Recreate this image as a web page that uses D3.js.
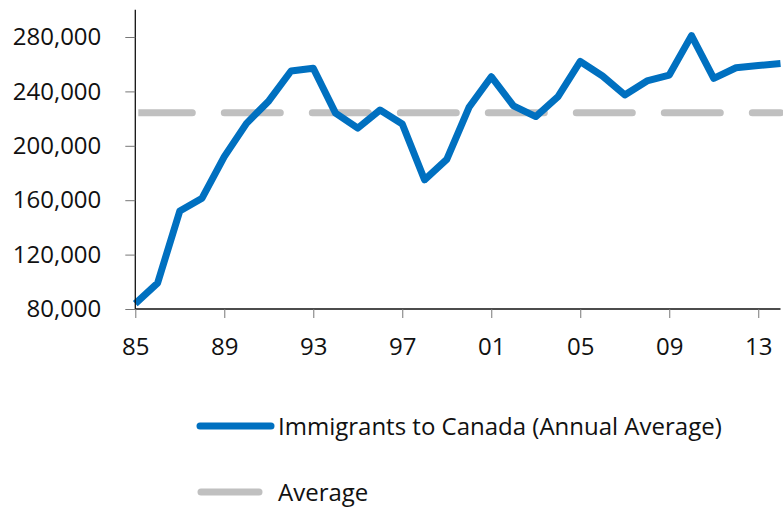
<!DOCTYPE html>
<html lang="en">
  <head>
    <meta charset="UTF-8" />
    <title>Immigrants to Canada</title>
    <style>
      body {
        margin: 0;
        background: #fff;
      }
      svg text {
        font-family: "Open Sans", sans-serif;
        fill: #111;
      }
    </style>
  </head>
  <body>
    <script src="https://cdn.jsdelivr.net/npm/d3@7"></script>
    <script>

// values
var years = [1985, 1986, 1987, 1988, 1989, 1990, 1991, 1992, 1993, 1994,
             1995, 1996, 1997, 1998, 1999, 2000, 2001, 2002, 2003, 2004,
             2005, 2006, 2007, 2008, 2009, 2010, 2011, 2012, 2013, 2014];
var immigrants = [84000, 99000, 152000, 161500, 192000, 216500, 233000, 255000, 257000, 224000,
                  213000, 226300, 216000, 175000, 190000, 228300, 250800, 229300, 221500, 236100,
                  262000, 251300, 237400, 247700, 252000, 281000, 249600, 257400, 259000, 260500];
var avgValue = 224300;
var yTicks = [80000, 120000, 160000, 200000, 240000, 280000];
var xTicks = [1985, 1989, 1993, 1997, 2001, 2005, 2009, 2013];
var legendLabels = ["Immigrants to Canada (Annual Average)", "Average"];

var width = 783, height = 507;
var blue = "#0070c0", grey = "#c0c0c0";

var svg = d3.select("body").append("svg")
    .attr("width", width)
    .attr("height", height);

var x = d3.scaleLinear().domain([1985, 2014]).range([135.3, 780.5]);
var y = d3.scaleLinear().domain([80000, 300000]).range([309, 9.8]);

// keep the first dash off the axis line
svg.append("clipPath").attr("id", "avgclip")
  .append("rect")
    .attr("x", x(1985) + 3).attr("y", 0)
    .attr("width", width).attr("height", height);

// average line (dashed)
svg.append("line")
    .attr("clip-path", "url(#avgclip)")
    .attr("x1", x(years[0]))
    .attr("x2", x(years[years.length - 1]))
    .attr("y1", y(avgValue))
    .attr("y2", y(avgValue))
    .attr("stroke", grey)
    .attr("stroke-width", 7)
    .attr("stroke-linecap", "round")
    .attr("stroke-dasharray", "56 32")
    .attr("stroke-dashoffset", -1);

// main series
var line = d3.line()
    .x(function(d, i) { return x(years[i]); })
    .y(function(d) { return y(d); });

svg.append("path")
    .datum(immigrants)
    .attr("d", line)
    .attr("fill", "none")
    .attr("stroke", blue)
    .attr("stroke-width", 7)
    .attr("stroke-linejoin", "round");

// axes
var fmt = d3.format(",");
var yAxis = svg.append("g")
    .attr("transform", "translate(" + x(1985) + ",0)")
    .call(d3.axisLeft(y).tickValues(yTicks).tickFormat(fmt).tickSize(10).tickPadding(24));

var xAxis = svg.append("g")
    .attr("transform", "translate(0," + y(80000) + ")")
    .call(d3.axisBottom(x).tickValues(xTicks)
      .tickFormat(function(d) { return String(d).slice(2); })
      .tickSize(9).tickPadding(20));

svg.selectAll(".tick text").attr("font-size", 24);
svg.selectAll(".tick line").attr("stroke", "#777");
svg.selectAll(".domain").attr("stroke", "#111").attr("stroke-width", 1.3);
// left axis spans the full plot, no outer tick caps
yAxis.select(".domain").attr("d", "M0," + y(300000) + "V" + y(80000));
xAxis.select(".domain").attr("d", "M" + x(1985) + ",0H" + x(2014));

// legend
var legend = svg.append("g");
var rows = [
  { label: legendLabels[0], color: blue, y: 426, x1: 200, x2: 271 },
  { label: legendLabels[1], color: grey, y: 492, x1: 201, x2: 259 }
];
rows.forEach(function(r) {
  legend.append("line")
      .attr("x1", r.x1).attr("x2", r.x2)
      .attr("y1", r.y).attr("y2", r.y)
      .attr("stroke", r.color)
      .attr("stroke-width", 7)
      .attr("stroke-linecap", "round");
  legend.append("text")
      .attr("x", 278)
      .attr("y", r.y)
      .attr("dy", "0.36em")
      .attr("font-size", 24)
      .text(r.label);
});

</script>
  </body>
</html>
